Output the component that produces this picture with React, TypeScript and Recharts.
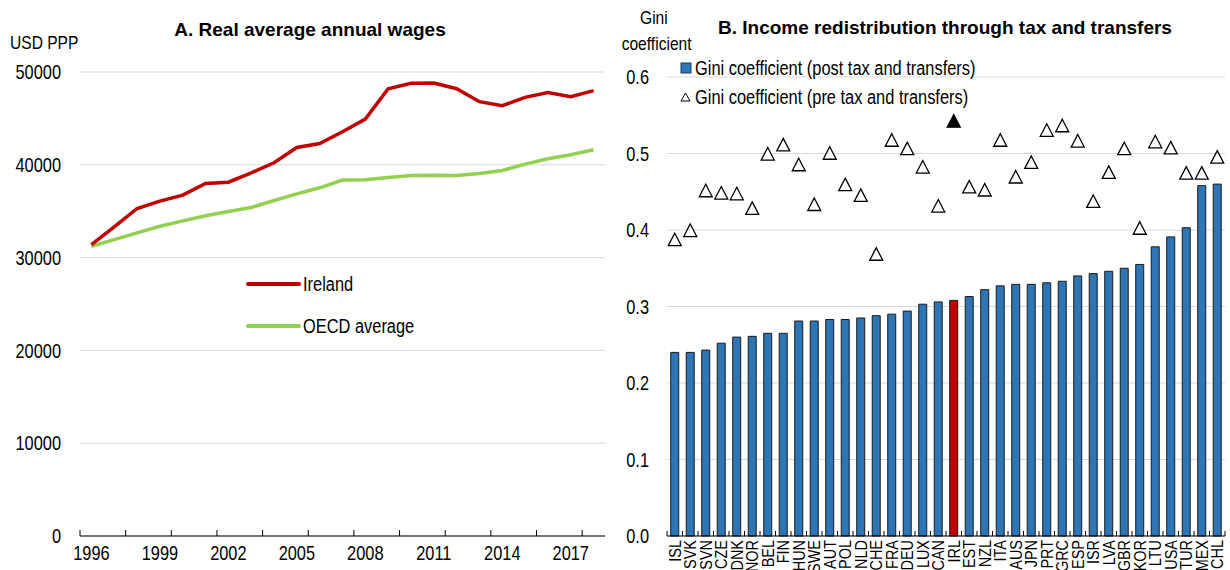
import React from 'react';
import {
  LineChart,
  Line,
  XAxis,
  YAxis,
  CartesianGrid,
  Legend,
  ComposedChart,
  Bar,
  Cell,
} from 'recharts';

// ---------- Panel A data ----------
const years = [
  1996, 1997, 1998, 1999, 2000, 2001, 2002, 2003, 2004, 2005, 2006, 2007,
  2008, 2009, 2010, 2011, 2012, 2013, 2014, 2015, 2016, 2017, 2018,
];
const irelandWages = [
  31400, 33300, 35290, 36080, 36730, 37990, 38130, 39140, 40220, 41870, 42300,
  43560, 44930, 48200, 48780, 48810, 48200, 46800, 46370, 47270, 47800, 47340,
  47990,
];
const oecdWages = [
  31220, 31940, 32660, 33380, 33960, 34500, 34960, 35400, 36150, 36870, 37520,
  38350, 38380, 38630, 38850, 38880, 38850, 39060, 39390, 40070, 40650, 41080,
  41620,
];
const wageTicks = [0, 10000, 20000, 30000, 40000, 50000];
const yearLabels = [1996, 1999, 2002, 2005, 2008, 2011, 2014, 2017];
const yearTickMarks = [
  1995.5, 1997.5, 1999.5, 2001.5, 2003.5, 2005.5, 2007.5, 2009.5, 2011.5,
  2013.5, 2015.5, 2017.5,
];

// ---------- Panel B data ----------
const countries = [
  'ISL', 'SVK', 'SVN', 'CZE', 'DNK', 'NOR', 'BEL', 'FIN', 'HUN', 'SWE', 'AUT',
  'POL', 'NLD', 'CHE', 'FRA', 'DEU', 'LUX', 'CAN', 'IRL', 'EST', 'NZL', 'ITA',
  'AUS', 'JPN', 'PRT', 'GRC', 'ESP', 'ISR', 'LVA', 'GBR', 'KOR', 'LTU', 'USA',
  'TUR', 'MEX', 'CHL',
];
const giniPost = [
  0.240, 0.240, 0.243, 0.252, 0.260, 0.261, 0.265, 0.265, 0.281, 0.281, 0.283,
  0.283, 0.285, 0.288, 0.290, 0.294, 0.303, 0.306, 0.308, 0.313, 0.322, 0.327,
  0.329, 0.329, 0.331, 0.333, 0.340, 0.343, 0.346, 0.350, 0.355, 0.378, 0.391,
  0.403, 0.458, 0.460,
];
const giniPre = [
  0.386, 0.398, 0.450, 0.447, 0.446, 0.427, 0.498, 0.510, 0.484, 0.432, 0.499,
  0.458, 0.444, 0.367, 0.516, 0.505, 0.481, 0.430, 0.541, 0.455, 0.451, 0.516,
  0.468, 0.487, 0.529, 0.535, 0.515, 0.436, 0.474, 0.505, 0.401, 0.514, 0.506,
  0.473, 0.473, 0.494,
];
const giniTicks = [0, 0.1, 0.2, 0.3, 0.4, 0.5, 0.6];
const highlightCountry = 'IRL';

const FONT = "'Liberation Sans', Arial, sans-serif";
const NARROW = 0.82;
const IRL_RED = '#C00000';
const OECD_GREEN = '#92D050';
const BAR_BLUE = '#2E75B6';
const GRID = '#D9D9D9';

const wageData = years.map((y, i) => ({
  year: y,
  ireland: irelandWages[i],
  oecd: oecdWages[i],
}));

const giniData = countries.map((c, i) => ({
  country: c,
  post: giniPost[i],
  pre: giniPre[i],
}));

const yearTicksAll = [...yearTickMarks, ...yearLabels].sort((a, b) => a - b);

const Narrow = ({ children, origin = 'left center' }: any) => (
  <span
    style={{
      display: 'inline-block',
      transform: `scaleX(${NARROW})`,
      transformOrigin: origin,
      whiteSpace: 'nowrap',
    }}
  >
    {children}
  </span>
);

const YearTick = (props: any) => {
  const { x, y, payload } = props;
  const v = payload.value as number;
  if (v % 1 !== 0) {
    return <line x1={x} x2={x} y1={y - 6} y2={y} stroke="#000" strokeWidth={1} />;
  }
  return (
    <text
      transform={`translate(${x},${y + 24}) scale(${NARROW},1)`}
      x={0}
      y={0}
      textAnchor="middle"
      fontSize={20}
      fontFamily={FONT}
      fill="#000"
    >
      {v}
    </text>
  );
};

const makeValueTick = (fmt: (v: number) => string) => (props: any) => {
  const { x, y, payload } = props;
  return (
    <text
      transform={`translate(${x},${y}) scale(${NARROW},1)`}
      x={0}
      y={0}
      dy="0.36em"
      textAnchor="end"
      fontSize={20}
      fontFamily={FONT}
      fill="#000"
    >
      {fmt(payload.value)}
    </text>
  );
};

const WageTick = makeValueTick((v) => String(v));
const GiniTick = makeValueTick((v) => v.toFixed(1));

const CountryTick = (props: any) => {
  const { x, y, payload, index, visibleTicksCount } = props;
  const half = typeof payload.offset === 'number' && payload.offset > 0 ? payload.offset : 7.75;
  const isLast = index === (visibleTicksCount ?? countries.length) - 1;
  return (
    <g>
      <line x1={x - half} x2={x - half} y1={y - 5} y2={y} stroke="#000" strokeWidth={1} />
      {isLast && <line x1={x + half} x2={x + half} y1={y - 5} y2={y} stroke="#000" strokeWidth={1} />}
      <text
        transform={`translate(${x},${y + 4}) rotate(-90) scale(0.85,1)`}
        x={0}
        y={0}
        textAnchor="end"
        dy="0.36em"
        fontSize={17}
        fontFamily={FONT}
        fill="#000"
      >
        {payload.value}
      </text>
    </g>
  );
};

const TriangleDot = (props: any) => {
  const { cx, cy, payload } = props;
  if (cx == null || cy == null) return null;
  const filled = payload && payload.country === highlightCountry;
  const w = 6.5;
  const h = 12.5;
  const d = `M${cx},${cy - h * 0.6} L${cx + w},${cy + h * 0.4} L${cx - w},${cy + h * 0.4} Z`;
  return (
    <path
      d={d}
      fill={filled ? '#000' : '#fff'}
      stroke="#000"
      strokeWidth={1.3}
      strokeLinejoin="miter"
    />
  );
};

const WageLegend = () => (
  <div style={{ fontFamily: FONT, fontSize: 20, color: '#000' }}>
    {[
      { label: 'Ireland', color: IRL_RED },
      { label: 'OECD average', color: OECD_GREEN },
    ].map((e, i) => (
      <div key={e.label} style={{ display: 'flex', alignItems: 'center', height: 22, marginBottom: i === 0 ? 20 : 0 }}>
        <svg width={56} height={8} style={{ marginRight: 1 }}>
          <line x1={2} x2={53} y1={4} y2={4} stroke={e.color} strokeWidth={4} strokeLinecap="round" />
        </svg>
        <Narrow>{e.label}</Narrow>
      </div>
    ))}
  </div>
);

const GiniLegend = () => (
  <div style={{ fontFamily: FONT, fontSize: 20, color: '#000' }}>
    <div style={{ display: 'flex', alignItems: 'center', height: 22, marginBottom: 7 }}>
      <svg width={14} height={12} style={{ marginRight: 1 }}>
        <rect x={1} y={1} width={10} height={10} fill={BAR_BLUE} stroke="#1F3864" strokeWidth={1} />
      </svg>
      <Narrow>Gini coefficient (post tax and transfers)</Narrow>
    </div>
    <div style={{ display: 'flex', alignItems: 'center', height: 22 }}>
      <svg width={14} height={12} style={{ marginRight: 1 }}>
        <path d="M5.5,2 L10,10 L1,10 Z" fill="#fff" stroke="#000" strokeWidth={1} />
      </svg>
      <Narrow>Gini coefficient (pre tax and transfers)</Narrow>
    </div>
  </div>
);

export default function App() {
  return (
    <div
      style={{
        position: 'absolute',
        left: 0,
        top: 0,
        width: 1230,
        height: 570,
        background: '#fff',
        overflow: 'hidden',
        fontFamily: FONT,
        color: '#000',
      }}
    >
      {/* Panel A */}
      <div style={{ position: 'absolute', left: 10, top: 32, fontSize: 19, lineHeight: '22px' }}>
        <Narrow origin="left center">USD PPP</Narrow>
      </div>
      <div
        style={{
          position: 'absolute',
          left: 110,
          width: 400,
          top: 19,
          textAlign: 'center',
          fontSize: 19,
          fontWeight: 'bold',
          lineHeight: '22px',
          whiteSpace: 'nowrap',
        }}
      >
        A. Real average annual wages
      </div>
      <div style={{ position: 'absolute', left: 0, top: 0 }}>
        <LineChart
          width={615}
          height={570}
          data={wageData}
          margin={{ top: 72, right: 10, bottom: 0, left: 0 }}
        >
          <CartesianGrid vertical={false} stroke={GRID} strokeWidth={1} />
          <XAxis
            dataKey="year"
            type="number"
            domain={[1995.5, 2018.5]}
            ticks={yearTicksAll}
            interval={0}
            tickSize={0}
            tickMargin={0}
            tickLine={false}
            axisLine={{ stroke: '#000', strokeWidth: 1 }}
            tick={<YearTick />}
            height={34}
          />
          <YAxis
            type="number"
            domain={[0, 50000]}
            ticks={wageTicks}
            interval={0}
            width={80}
            axisLine={false}
            tickLine={false}
            tickSize={0}
            tickMargin={19}
            tick={<WageTick />}
          />
          <Legend
            layout="vertical"
            verticalAlign="middle"
            align="center"
            content={<WageLegend />}
            wrapperStyle={{ position: 'absolute', left: 246, top: 273, width: 220, height: 70 }}
          />
          <Line
            dataKey="oecd"
            name="OECD average"
            stroke={OECD_GREEN}
            strokeWidth={3.5}
            dot={false}
            isAnimationActive={false}
          />
          <Line
            dataKey="ireland"
            name="Ireland"
            stroke={IRL_RED}
            strokeWidth={3.5}
            dot={false}
            isAnimationActive={false}
          />
        </LineChart>
      </div>

      {/* Panel B */}
      <div
        style={{
          position: 'absolute',
          left: 614,
          width: 80,
          top: 5,
          textAlign: 'center',
          fontSize: 19,
          lineHeight: '26px',
        }}
      >
        <Narrow origin="center center">Gini</Narrow>
        <br />
        <Narrow origin="center center">coefficient</Narrow>
      </div>
      <div
        style={{
          position: 'absolute',
          left: 718,
          top: 17,
          fontSize: 19,
          fontWeight: 'bold',
          lineHeight: '22px',
          whiteSpace: 'nowrap',
        }}
      >
        B. Income redistribution through tax and transfers
      </div>
      <div style={{ position: 'absolute', left: 600, top: 0 }}>
        <ComposedChart
          width={630}
          height={570}
          data={giniData}
          margin={{ top: 77, right: 5, bottom: 0, left: 0 }}
          barCategoryGap="24%"
        >
          <CartesianGrid vertical={false} stroke={GRID} strokeWidth={1} />
          <XAxis
            dataKey="country"
            type="category"
            interval={0}
            tickSize={0}
            tickMargin={0}
            tickLine={false}
            axisLine={{ stroke: '#000', strokeWidth: 1 }}
            tick={<CountryTick />}
            height={34}
          />
          <YAxis
            type="number"
            domain={[0, 0.6]}
            ticks={giniTicks}
            interval={0}
            width={67}
            axisLine={false}
            tickLine={false}
            tickSize={0}
            tickMargin={18}
            tick={<GiniTick />}
          />
          <Legend
            layout="vertical"
            verticalAlign="middle"
            align="center"
            content={<GiniLegend />}
            wrapperStyle={{ position: 'absolute', left: 80, top: 57, width: 360, height: 60 }}
          />
          <Bar dataKey="post" isAnimationActive={false} stroke="#1A1A1A" strokeWidth={1}>
            {giniData.map((d) => (
              <Cell key={d.country} fill={d.country === highlightCountry ? IRL_RED : BAR_BLUE} />
            ))}
          </Bar>
          <Line
            dataKey="pre"
            stroke="none"
            strokeWidth={0}
            dot={<TriangleDot />}
            activeDot={false}
            legendType="none"
            isAnimationActive={false}
          />
        </ComposedChart>
      </div>
    </div>
  );
}
